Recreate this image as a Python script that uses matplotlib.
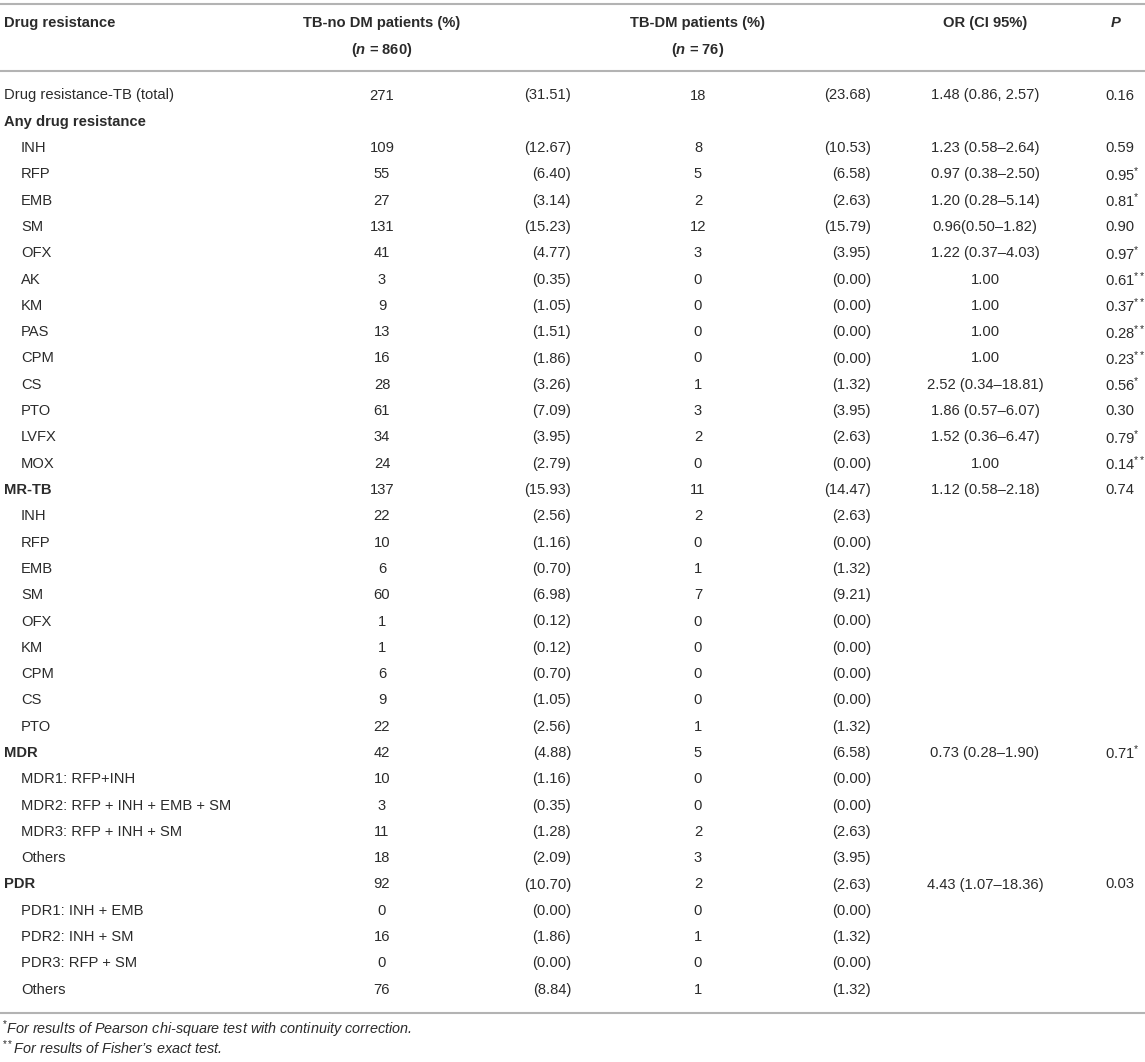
import matplotlib
matplotlib.use("Agg")
import matplotlib.pyplot as plt

# table content
labels = [
    "Drug resistance-TB (total)", "Any drug resistance",
    "INH", "RFP", "EMB", "SM", "OFX", "AK", "KM", "PAS", "CPM", "CS", "PTO", "LVFX", "MOX",
    "MR-TB", "INH", "RFP", "EMB", "SM", "OFX", "KM", "CPM", "CS", "PTO",
    "MDR", "MDR1: RFP+INH", "MDR2: RFP + INH + EMB + SM", "MDR3: RFP + INH + SM", "Others",
    "PDR", "PDR1: INH + EMB", "PDR2: INH + SM", "PDR3: RFP + SM", "Others",
]
# 0 = plain, 1 = bold group, 2 = indented sub item
levels = [0, 1] + [2] * 13 + [1] + [2] * 9 + [1] + [2] * 4 + [1] + [2] * 4

nodm_n = [271, None, 109, 55, 27, 131, 41, 3, 9, 13, 16, 28, 61, 34, 24,
          137, 22, 10, 6, 60, 1, 1, 6, 9, 22,
          42, 10, 3, 11, 18,
          92, 0, 16, 0, 76]
nodm_pct = [31.51, None, 12.67, 6.40, 3.14, 15.23, 4.77, 0.35, 1.05, 1.51, 1.86, 3.26, 7.09, 3.95, 2.79,
            15.93, 2.56, 1.16, 0.70, 6.98, 0.12, 0.12, 0.70, 1.05, 2.56,
            4.88, 1.16, 0.35, 1.28, 2.09,
            10.70, 0.00, 1.86, 0.00, 8.84]
dm_n = [18, None, 8, 5, 2, 12, 3, 0, 0, 0, 0, 1, 3, 2, 0,
        11, 2, 0, 1, 7, 0, 0, 0, 0, 1,
        5, 0, 0, 2, 3,
        2, 0, 1, 0, 1]
dm_pct = [23.68, None, 10.53, 6.58, 2.63, 15.79, 3.95, 0.00, 0.00, 0.00, 0.00, 1.32, 3.95, 2.63, 0.00,
          14.47, 2.63, 0.00, 1.32, 9.21, 0.00, 0.00, 0.00, 0.00, 1.32,
          6.58, 0.00, 0.00, 2.63, 3.95,
          2.63, 0.00, 1.32, 0.00, 1.32]
or_ci = ["1.48 (0.86, 2.57)", "",
         "1.23 (0.58\u20132.64)", "0.97 (0.38\u20132.50)", "1.20 (0.28\u20135.14)",
         "0.96(0.50\u20131.82)", "1.22 (0.37\u20134.03)", "1.00", "1.00", "1.00", "1.00",
         "2.52 (0.34\u201318.81)", "1.86 (0.57\u20136.07)", "1.52 (0.36\u20136.47)", "1.00",
         "1.12 (0.58\u20132.18)"] + [""] * 9 + \
        ["0.73 (0.28\u20131.90)"] + [""] * 4 + ["4.43 (1.07\u201318.36)"] + [""] * 4
p_val = ["0.16", "", "0.59", "0.95", "0.81", "0.90", "0.97", "0.61", "0.37", "0.28",
         "0.23", "0.56", "0.30", "0.79", "0.14", "0.74"] + [""] * 9 + \
        ["0.71"] + [""] * 4 + ["0.03"] + [""] * 4
p_star = ["", "", "", "*", "*", "", "*", "**", "**", "**",
          "**", "*", "", "*", "**", ""] + [""] * 9 + \
         ["*"] + [""] * 4 + [""] + [""] * 4

footnotes = ["For results of Pearson chi-square test with continuity correction.",
             "For results of Fisher\u2019s exact test."]
footnote_marks = ["*", "**"]

plt.rcParams["font.family"] = ["Liberation Sans", "DejaVu Sans"]
plt.rcParams["mathtext.fontset"] = "custom"
plt.rcParams["mathtext.rm"] = "Liberation Sans"
plt.rcParams["mathtext.it"] = "Liberation Sans:italic:bold"
plt.rcParams["mathtext.bf"] = "Liberation Sans:bold"

W, H = 1145, 1062
fig = plt.figure(figsize=(W / 100, H / 100), dpi=100)
ax = fig.add_axes([0, 0, 1, 1])
ax.set_xlim(0, W)
ax.set_ylim(H, 0)
ax.axis("off")

text_color = "#2b2b2b"
line_color = "#b3b3b3"
fs = 10.6

# column anchors (pixels)
x_label, x_indent = 4, 21
x_nodm_n, x_nodm_pct = 382, 571
x_dm_n, x_dm_pct = 698, 871
x_or, x_p = 985, 1105

# rules
for y in (4, 71, 1013):
    ax.plot([0, W], [y, y], color=line_color, lw=1.5, solid_capstyle="butt")

# header
hdr = dict(fontsize=fs, fontweight="bold", color=text_color, va="center")
ax.text(x_label, 23, "Drug resistance", ha="left", **hdr)
ax.text(x_nodm_n, 23, "TB-no DM patients (%)", ha="center", **hdr)
ax.text(x_nodm_n, 50, r"($\mathit{n}$ = 860)", ha="center", **hdr)
ax.text(x_dm_n, 23, "TB-DM patients (%)", ha="center", **hdr)
ax.text(x_dm_n, 50, r"($\mathit{n}$ = 76)", ha="center", **hdr)
ax.text(x_or, 23, "OR (CI 95%)", ha="center", **hdr)
ax.text(1116, 23, "P", ha="center", fontstyle="italic", **hdr)

# body rows
y0, dy = 95.5, 26.3
body = dict(fontsize=fs, color=text_color, va="center")
for i, lab in enumerate(labels):
    y = y0 + i * dy
    if levels[i] == 1:
        ax.text(x_label, y, lab, ha="left", fontweight="bold", **body)
    elif levels[i] == 2:
        ax.text(x_indent, y, lab, ha="left", **body)
    else:
        ax.text(x_label, y, lab, ha="left", **body)
    if nodm_n[i] is not None:
        ax.text(x_nodm_n, y, f"{nodm_n[i]}", ha="center", **body)
        ax.text(x_nodm_pct, y, f"({nodm_pct[i]:.2f})", ha="right", **body)
        ax.text(x_dm_n, y, f"{dm_n[i]}", ha="center", **body)
        ax.text(x_dm_pct, y, f"({dm_pct[i]:.2f})", ha="right", **body)
    if or_ci[i]:
        ax.text(x_or, y, or_ci[i], ha="center", **body)
    if p_val[i]:
        s = p_val[i]
        if p_star[i]:
            s = s + r"$^{" + p_star[i] + "}$"
        ax.text(x_p, y, s, ha="left", **body)

# footnotes
for k, (mark, note) in enumerate(zip(footnote_marks, footnotes)):
    ax.text(2, 1029 + k * 19, r"$^{" + mark + "}$" + note, ha="left", va="center",
            fontsize=10.4, fontstyle="italic", color=text_color)

fig.savefig("out.png", dpi=100)
